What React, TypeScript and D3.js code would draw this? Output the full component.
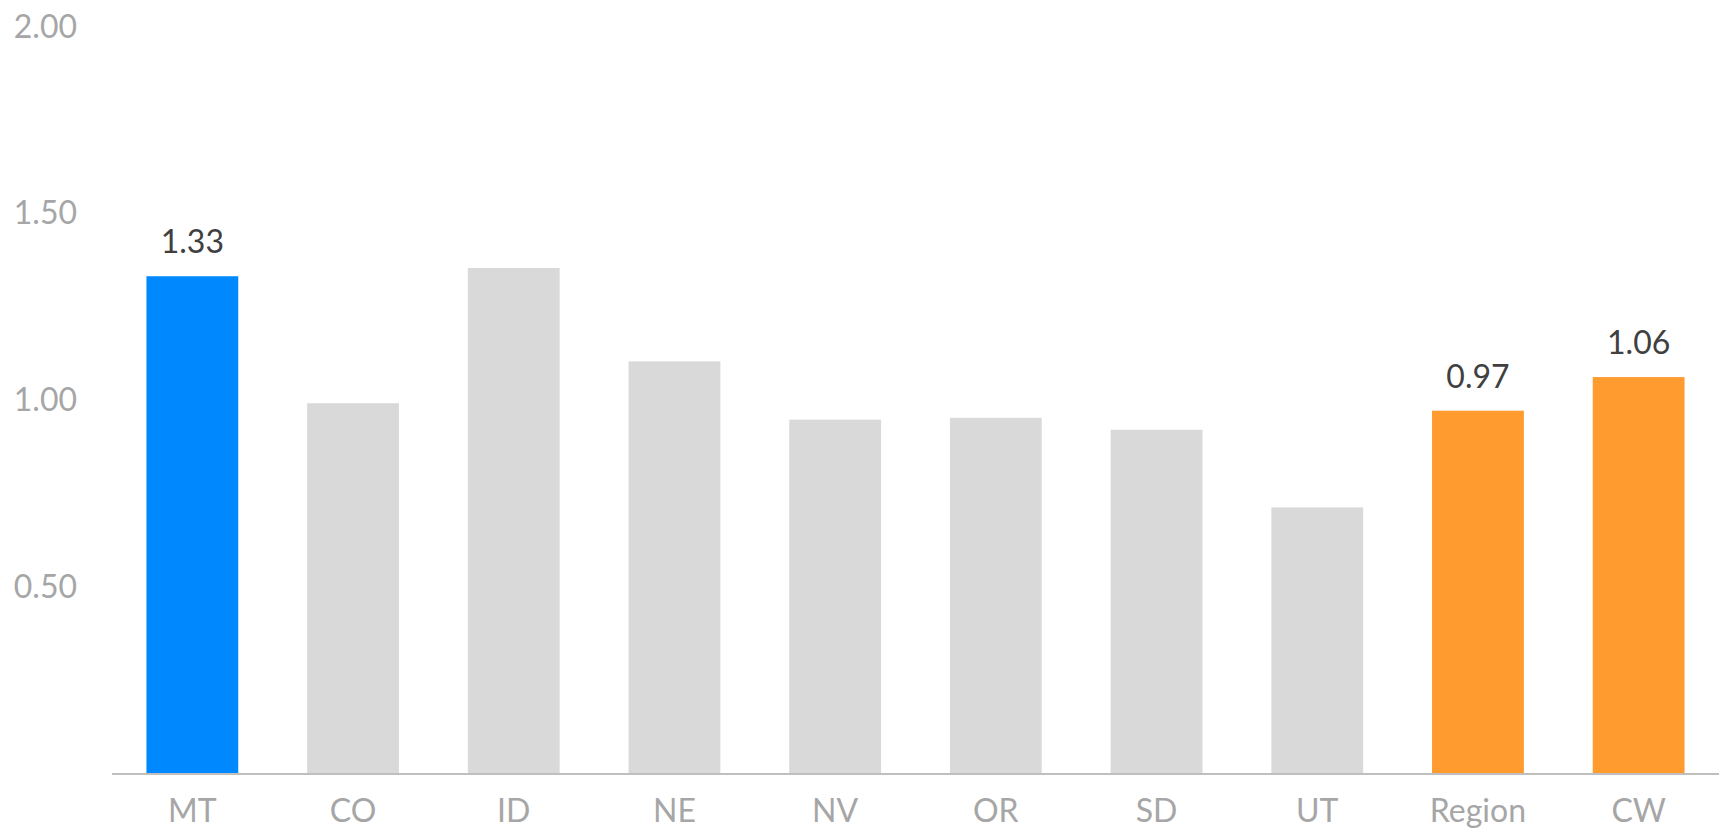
import React from "react";
import * as d3 from "d3";

const categories = ["MT", "CO", "ID", "NE", "NV", "OR", "SD", "UT", "Region", "CW"];
const values = [1.33, 0.99, 1.352, 1.102, 0.946, 0.951, 0.919, 0.711, 0.97, 1.06];
const labelTexts = ["1.33", "", "", "", "", "", "", "", "0.97", "1.06"];
const barColors = ["#0088FF", "#D9D9D9", "#D9D9D9", "#D9D9D9", "#D9D9D9", "#D9D9D9", "#D9D9D9", "#D9D9D9", "#FF9B2F", "#FF9B2F"];
const yTicks = [0.5, 1.0, 1.5, 2.0];

const W = 1721;
const H = 829;
const FONT = "Lato, 'Open Sans', sans-serif";

export default function App() {
  const x = d3
    .scaleBand<string>()
    .domain(categories)
    .range([112, 1719])
    .paddingInner(0.4286)
    .paddingOuter(0.2143);
  const y = d3.scaleLinear().domain([0, 2]).range([773, 26]);

  return (
    <svg
      width={W}
      height={H}
      style={{ position: "absolute", left: 0, top: 0, background: "#fff" }}
    >
      {yTicks.map((t) => (
        <text
          key={t}
          x={77}
          y={y(t)}
          dy="0.36em"
          textAnchor="end"
          fontFamily={FONT}
          fontSize={32}
          fill="#A6A6A6"
        >
          {d3.format(".2f")(t)}
        </text>
      ))}
      {categories.map((c, i) => (
        <rect
          key={c}
          x={x(c)}
          y={y(values[i])}
          width={x.bandwidth()}
          height={y(0) - y(values[i])}
          fill={barColors[i]}
        />
      ))}
      <line x1={112} x2={1719} y1={774} y2={774} stroke="#BFBFBF" strokeWidth={2} />
      {categories.map((c, i) =>
        labelTexts[i] ? (
          <text
            key={"l" + c}
            x={(x(c) as number) + x.bandwidth() / 2}
            y={y(values[i]) - 23}
            textAnchor="middle"
            fontFamily={FONT}
            fontSize={32}
            fill="#404040"
          >
            {labelTexts[i]}
          </text>
        ) : null
      )}
      {categories.map((c) => (
        <text
          key={"c" + c}
          x={(x(c) as number) + x.bandwidth() / 2}
          y={822}
          textAnchor="middle"
          fontFamily={FONT}
          fontSize={32}
          fill="#A6A6A6"
        >
          {c}
        </text>
      ))}
    </svg>
  );
}
